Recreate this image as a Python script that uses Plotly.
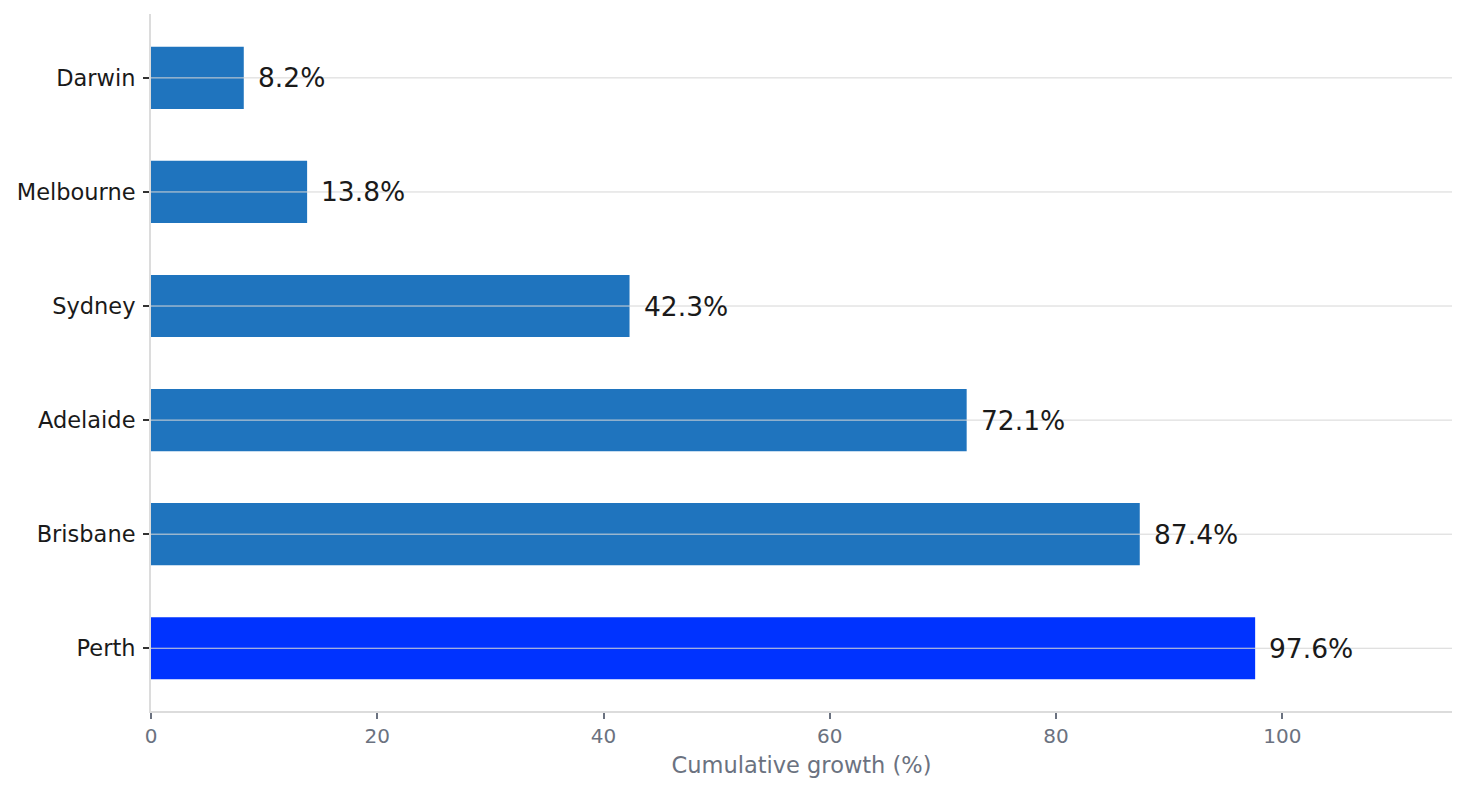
import plotly.graph_objects as go

cities = ["Perth", "Brisbane", "Adelaide", "Sydney", "Melbourne", "Darwin"]
growth = [97.6, 87.4, 72.1, 42.3, 13.8, 8.2]
bar_colors = ["#0033ff", "#1f74be", "#1f74be", "#1f74be", "#1f74be", "#1f74be"]
labels = [f"{v:.1f}%" for v in growth]
x_ticks = [0, 20, 40, 60, 80, 100]

FONT = "DejaVu Sans"

fig = go.Figure()
fig.add_trace(go.Bar(
    y=cities, x=growth, orientation="h",
    marker=dict(color=bar_colors, line=dict(width=0)),
    width=0.545,
    hoverinfo="skip",
))

for c, v, t in zip(cities, growth, labels):
    fig.add_annotation(
        x=v, y=c, text=t, showarrow=False, xanchor="left", yanchor="middle",
        xshift=12, font=dict(family=FONT, size=26.5, color="#1a1a1a"),
    )
    fig.add_shape(
        type="line", xref="x domain", yref="y", x0=0, x1=1, y0=c, y1=c,
        line=dict(color="#d6d6d6", width=1), layer="above",
    )

fig.update_layout(
    width=1467, height=792,
    margin=dict(l=151, r=15, t=14, b=81),
    plot_bgcolor="white", paper_bgcolor="white",
    showlegend=False,
    font=dict(family=FONT),
    xaxis=dict(
        range=[0, 115], tickvals=x_ticks, showgrid=False, zeroline=False,
        showline=True, linecolor="#dcdcdc", linewidth=2,
        ticks="outside", ticklen=6, tickwidth=1.5, tickcolor="#6b7280",
        tickfont=dict(family=FONT, size=20, color="#6b7280"),
        title=dict(text="Cumulative growth (%)", font=dict(family=FONT, size=22.5, color="#6b7280"), standoff=10),
    ),
    yaxis=dict(
        categoryorder="array", categoryarray=cities,
        range=[-0.55, 5.56], showgrid=False, zeroline=False,
        showline=True, linecolor="#dcdcdc", linewidth=2,
        ticks="outside", ticklen=6, tickwidth=1.5, tickcolor="#333333",
        ticklabelstandoff=3,
        tickfont=dict(family=FONT, size=22.5, color="#1a1a1a"),
    ),
)

fig.write_html("out.html")
